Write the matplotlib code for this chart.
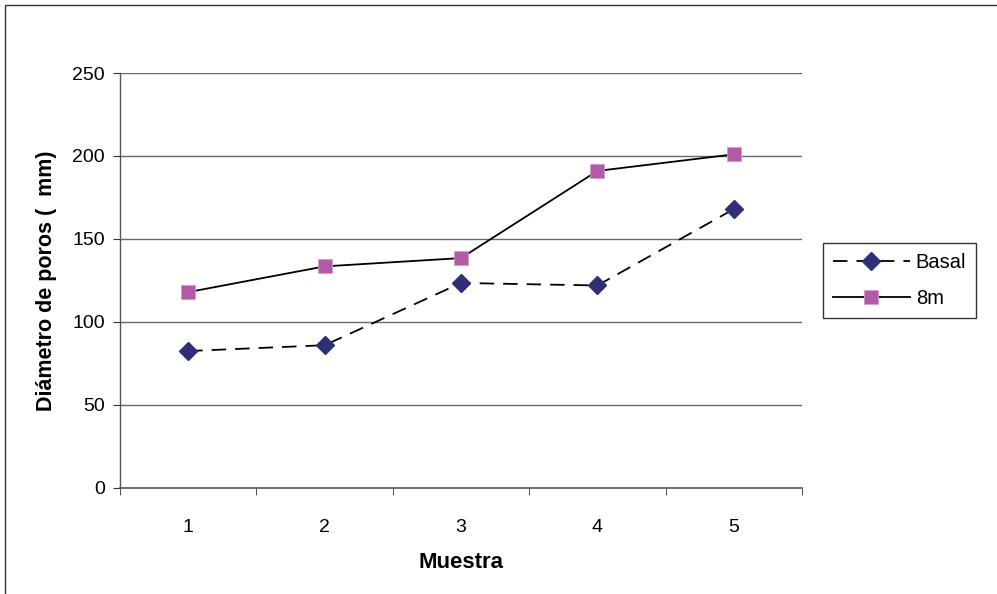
import matplotlib
matplotlib.use('Agg')
import matplotlib.pyplot as plt
from matplotlib.patches import Rectangle

# datos de diametro de poros por muestra
muestras = [1, 2, 3, 4, 5]
basal = [82.5, 86, 123.5, 122, 168]
ocho_m = [118, 133.5, 138.5, 191, 201]

plt.rcParams['font.family'] = ['Liberation Sans', 'DejaVu Sans']

fig = plt.figure(figsize=(9.97, 5.94), dpi=100)
ax = fig.add_axes([0.1204, 0.1785, 0.684, 0.6986])

# marco exterior del grafico
fig.patches.append(Rectangle((5 / 997, -0.1), 1.2, 1.1 - 5 / 594,
                             transform=fig.transFigure, fill=False,
                             edgecolor='#333333', linewidth=1.0))

ax.plot(muestras, basal, color='black', linestyle=(0, (8, 5)), linewidth=1.3,
        marker='D', markersize=9, markerfacecolor='#2f2f78',
        markeredgecolor='#2f2f78', label='Basal', zorder=3)
ax.plot(muestras, ocho_m, color='black', linestyle='-', linewidth=1.3,
        marker='s', markersize=9.5, markerfacecolor='#b459a8',
        markeredgecolor='#d39bcc', markeredgewidth=0.6, label='8m', zorder=3)

ax.set_xlim(0.5, 5.5)
ax.set_ylim(0, 250)
ax.set_yticks([0, 50, 100, 150, 200, 250])
ax.set_xticks(muestras)
ax.set_xticks([0.5, 1.5, 2.5, 3.5, 4.5, 5.5], minor=True)
ax.tick_params(axis='x', which='major', length=0, pad=22, labelsize=14)
ax.tick_params(axis='x', which='minor', length=5, direction='out', color='#333333')
ax.tick_params(axis='y', length=5, direction='out', pad=6, labelsize=14, color='#333333')

for v in [50, 100, 150, 200, 250]:
    ax.axhline(v, color='#6a6a6a', linewidth=1.0, zorder=1)

for s in ['top', 'right']:
    ax.spines[s].set_visible(False)
ax.spines['left'].set_color('#555555')
ax.spines['bottom'].set_color('#555555')
ax.spines['left'].set_linewidth(1.0)
ax.spines['bottom'].set_linewidth(1.2)

ax.set_xlabel('Muestra', fontsize=16, fontweight='bold', labelpad=12)
ax.set_ylabel('Diámetro de poros (  mm)', fontsize=15.5, fontweight='bold', labelpad=11)

leg = ax.legend(loc='center left', bbox_to_anchor=(1.031, 0.50), frameon=True,
                fancybox=False, edgecolor='black', fontsize=14.5, handlelength=3.8,
                borderpad=0.5, labelspacing=0.85, handletextpad=0.3, borderaxespad=0)
leg.get_frame().set_linewidth(1.0)

fig.savefig('out.png', dpi=100)
